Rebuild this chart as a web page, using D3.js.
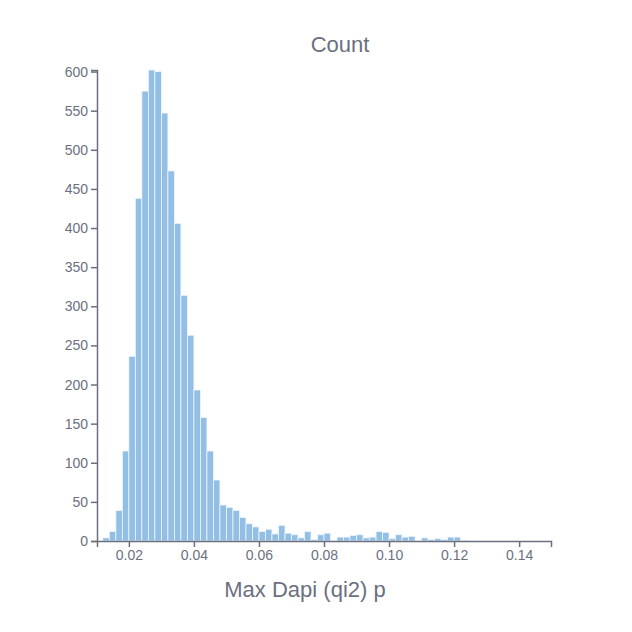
<!DOCTYPE html>
<html><head><meta charset="utf-8">
<script src="https://cdn.jsdelivr.net/npm/d3@7"></script>
<style>body{margin:0;background:#fff}text{font-family:"Helvetica Neue",Helvetica,"Liberation Sans",Arial,sans-serif}</style>
</head><body>
<script>
const binStart = 0.012, binWidth = 0.002;
const counts = [4, 12, 39, 115, 236, 438, 575, 602, 600, 547, 473, 406, 314, 263, 193, 158, 115, 78,
  46, 43, 39, 30, 22, 18, 12, 15, 9, 20, 10, 8, 4, 12, 2, 8, 10, 0, 5, 5, 7, 8, 4, 5, 12, 11, 3, 8, 5, 6,
  0, 4, 2, 3, 2, 5, 5, 1];
const xTicks = [0.02, 0.04, 0.06, 0.08, 0.10, 0.12, 0.14];
const yTicks = [0, 50, 100, 150, 200, 250, 300, 350, 400, 450, 500, 550, 600];

const w = 632, h = 632;
const svg = d3.select('body').append('svg').attr('width', w).attr('height', h);
const x = d3.scaleLinear().domain([0.0102, 0.1498]).range([97, 551]);
const y = d3.scaleLinear().domain([0, 602]).range([541, 70]);
const grey = '#6b7080';

svg.selectAll('rect').data(counts).enter().append('rect')
  .attr('x', (d, i) => x(binStart + i * binWidth))
  .attr('width', x(binWidth) - x(0))
  .attr('y', d => y(d))
  .attr('height', d => 541 - y(d))
  .attr('fill', '#92bfe3')
  .attr('stroke', '#eef5fb').attr('stroke-width', 0.8);

const xa = svg.append('g').attr('transform', 'translate(0,541)')
  .call(d3.axisBottom(x).tickValues(xTicks).tickFormat(d3.format('.2f')).tickSizeOuter(0).tickSize(6));
const ya = svg.append('g').attr('transform', 'translate(97,0)')
  .call(d3.axisLeft(y).tickValues(yTicks).tickSizeOuter(0).tickSize(6));
[xa, ya].forEach(a => {
  a.selectAll('path,line').attr('stroke', grey).attr('stroke-width', 1.5);
  a.selectAll('text').attr('fill', grey).style('font-size', '14px');
});

svg.append('text').attr('x', 340).attr('y', 52).attr('text-anchor', 'middle')
  .attr('fill', grey).style('font-size', '22px').text('Count');
svg.append('text').attr('x', 305).attr('y', 597).attr('text-anchor', 'middle')
  .attr('fill', grey).style('font-size', '22px').text('Max Dapi (qi2) p');
</script>
</body></html>
